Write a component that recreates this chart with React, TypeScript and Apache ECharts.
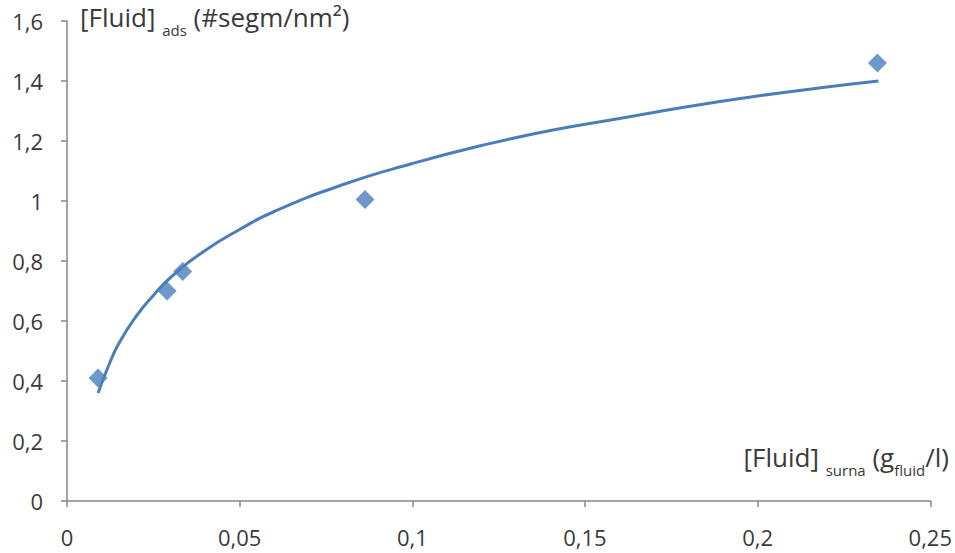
import React, { useEffect, useRef } from "react";
import * as echarts from "echarts";

const pointX = [0.009, 0.029, 0.0335, 0.0863, 0.2347];
const pointY = [0.41, 0.70, 0.765, 1.005, 1.46];

const trendX = [0.009, 0.012, 0.015, 0.02, 0.025, 0.03, 0.04, 0.05, 0.06, 0.08, 0.1, 0.12, 0.14, 0.16, 0.18, 0.2, 0.22, 0.235];
const trendY = [0.36, 0.45, 0.525, 0.615, 0.685, 0.745, 0.835, 0.905, 0.965, 1.055, 1.125, 1.185, 1.235, 1.275, 1.315, 1.35, 1.38, 1.40];

const fmt = (v: number) => String(+v.toFixed(2)).replace(".", ",");

export default function App() {
  const ref = useRef<HTMLDivElement>(null);
  useEffect(() => {
    document.body.style.margin = "0";
    const chart = echarts.init(ref.current!, null, { renderer: "svg" });
    const font = "'Open Sans', sans-serif";
    const labelColor = "#3a3a3a";
    const axisColor = "#868686";
    const blue = "#4A7EBB";
    const rich = {
      a: { fontSize: 26, fontFamily: font, fill: labelColor, lineHeight: 36, verticalAlign: "bottom" },
      s: { fontSize: 15, fontFamily: font, fill: labelColor, lineHeight: 36, verticalAlign: "bottom", padding: [0, 0, -7, 0] },
    };
    chart.setOption({
      animation: false,
      textStyle: { fontFamily: font },
      grid: { left: 67, right: 22, top: 21, bottom: 52, containLabel: false },
      xAxis: {
        type: "value",
        min: 0,
        max: 0.25,
        interval: 0.05,
        splitLine: { show: false },
        axisLine: { show: true, onZero: false, lineStyle: { color: axisColor, width: 1.5 } },
        axisTick: { show: true, inside: false, length: 6, lineStyle: { color: axisColor, width: 1.5 } },
        axisLabel: { formatter: fmt, fontSize: 22, color: labelColor, margin: 25, fontFamily: font },
      },
      yAxis: {
        type: "value",
        min: 0,
        max: 1.6,
        interval: 0.2,
        splitLine: { show: false },
        axisLine: { show: true, lineStyle: { color: axisColor, width: 1.5 } },
        axisTick: { show: true, inside: false, length: 6, lineStyle: { color: axisColor, width: 1.5 } },
        axisLabel: { formatter: fmt, fontSize: 22, color: labelColor, margin: 24, fontFamily: font },
      },
      graphic: [
        {
          type: "text",
          left: 80,
          top: 4,
          style: { text: "{a|[Fluid] }{s|ads}{a| (#segm/nm²)}", rich },
        },
        {
          type: "text",
          right: 6,
          top: 444,
          style: { text: "{a|[Fluid] }{s|surna}{a| (g}{s|fluid}{a|/l)}", rich },
        },
      ],
      series: [
        {
          type: "line",
          data: trendX.map((x, i) => [x, trendY[i]]),
          smooth: true,
          showSymbol: false,
          lineStyle: { color: blue, width: 3 },
          z: 2,
        },
        {
          type: "scatter",
          data: pointX.map((x, i) => [x, pointY[i]]),
          symbol: "diamond",
          symbolSize: 19,
          itemStyle: { color: blue },
          z: 3,
        },
      ],
    });
    return () => chart.dispose();
  }, []);
  return <div ref={ref} style={{ width: 955, height: 553 }} />;
}
